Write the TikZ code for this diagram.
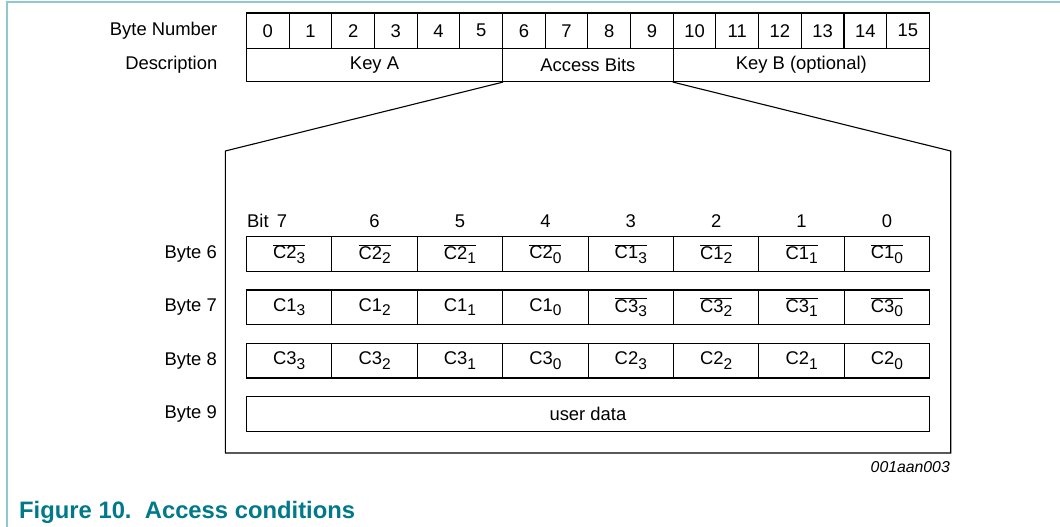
\documentclass[tikz,border=0pt]{standalone}
\usepackage{fontspec}
\setmainfont{Liberation Sans}
\definecolor{capteal}{RGB}{0,121,138}
\definecolor{frameteal}{RGB}{143,201,205}
\newcommand{\cbit}[2]{C#1{\fontsize{15.5}{15.5}\selectfont\raisebox{-4.5pt}{#2}}}
\newcommand{\cbitbar}[2]{\ensuremath{\overline{\hbox{\cbit{#1}{#2}}}}}
\begin{document}
\begin{tikzpicture}[x=1pt,y=-1pt,
    txt/.style={font=\fontsize{18.4}{20}\selectfont,inner sep=0pt},
    byte/.style={txt,draw,line width=1.1pt,minimum width=42.675pt,minimum height=35.5pt},
    part/.style={txt,draw,line width=1.1pt,minimum height=33pt},
    cell/.style={txt,draw,line width=1.1pt,minimum width=85.4pt,minimum height=34.4pt},
    edge/.style={line width=1.1pt}]
\useasboundingbox (0,0) rectangle (1060,527);
\draw[frameteal,line width=2pt] (7,527) -- (7,2) -- (1060,2);
% byte numbers
\node[txt,anchor=east] (BN) at (217.5,30.75) {Byte Number};
\node[byte] (n0) at (267.84,30.75) {0};
\node[byte] (n1) at (310.51,30.75) {1};
\node[byte] (n2) at (353.19,30.75) {2};
\node[byte] (n3) at (395.86,30.75) {3};
\node[byte] (n4) at (438.54,30.75) {4};
\node[byte] (n5) at (481.21,30.75) {5};
\node[byte] (n6) at (523.89,30.75) {6};
\node[byte] (n7) at (566.56,30.75) {7};
\node[byte] (n8) at (609.24,30.75) {8};
\node[byte] (n9) at (651.91,30.75) {9};
\node[byte] (n10) at (694.59,30.75) {10};
\node[byte] (n11) at (737.26,30.75) {11};
\node[byte] (n12) at (779.94,30.75) {12};
\node[byte] (n13) at (822.61,30.75) {13};
\node[byte] (n14) at (865.29,30.75) {14};
\node[byte] (n15) at (907.96,30.75) {15};
% description
\node[txt,anchor=east] (DS) at (217.5,65) {Description};
\node[part,minimum width=256.05pt] (keyA) at (374.53,65) {Key A};
\node[part,minimum width=170.7pt] (acc) at (587.9,65) {Access Bits};
\node[part,minimum width=256.05pt] (keyB) at (801.28,65) {Key B (optional)};
% zoomed frame
\coordinate (TL) at (225.3,151);
\coordinate (BL) at (225.3,453);
\coordinate (BR) at (950.7,453);
\coordinate (TR) at (950.7,151);
\draw[edge] (keyA.south east) -- (TL) -- (BL) -- (BR) -- (TR) -- (keyB.south west);
% bit numbers
\node[txt,anchor=base west] (bit) at (247,227) {Bit};
\node[txt,anchor=base] (b7) at (282,227) {7};
\node[txt,anchor=base] (b6) at (374.6,227) {6};
\node[txt,anchor=base] (b5) at (460.0,227) {5};
\node[txt,anchor=base] (b4) at (545.4,227) {4};
\node[txt,anchor=base] (b3) at (630.8,227) {3};
\node[txt,anchor=base] (b2) at (716.2,227) {2};
\node[txt,anchor=base] (b1) at (801.6,227) {1};
\node[txt,anchor=base] (b0) at (887.0,227) {0};
% byte 6
\node[txt,anchor=east] (L6) at (217,253.85) {Byte 6};
\node[cell] (r6c7) at (289.2,253.85) {\cbitbar{2}{3}};
\node[cell] (r6c6) at (374.6,253.85) {\cbitbar{2}{2}};
\node[cell] (r6c5) at (460.0,253.85) {\cbitbar{2}{1}};
\node[cell] (r6c4) at (545.4,253.85) {\cbitbar{2}{0}};
\node[cell] (r6c3) at (630.8,253.85) {\cbitbar{1}{3}};
\node[cell] (r6c2) at (716.2,253.85) {\cbitbar{1}{2}};
\node[cell] (r6c1) at (801.6,253.85) {\cbitbar{1}{1}};
\node[cell] (r6c0) at (887.0,253.85) {\cbitbar{1}{0}};
% byte 7
\node[txt,anchor=east] (L7) at (217,307.15) {Byte 7};
\node[cell] (r7c7) at (289.2,307.15) {\cbit{1}{3}};
\node[cell] (r7c6) at (374.6,307.15) {\cbit{1}{2}};
\node[cell] (r7c5) at (460.0,307.15) {\cbit{1}{1}};
\node[cell] (r7c4) at (545.4,307.15) {\cbit{1}{0}};
\node[cell] (r7c3) at (630.8,307.15) {\cbitbar{3}{3}};
\node[cell] (r7c2) at (716.2,307.15) {\cbitbar{3}{2}};
\node[cell] (r7c1) at (801.6,307.15) {\cbitbar{3}{1}};
\node[cell] (r7c0) at (887.0,307.15) {\cbitbar{3}{0}};
% byte 8
\node[txt,anchor=east] (L8) at (217,360.8) {Byte 8};
\node[cell] (r8c7) at (289.2,360.8) {\cbit{3}{3}};
\node[cell] (r8c6) at (374.6,360.8) {\cbit{3}{2}};
\node[cell] (r8c5) at (460.0,360.8) {\cbit{3}{1}};
\node[cell] (r8c4) at (545.4,360.8) {\cbit{3}{0}};
\node[cell] (r8c3) at (630.8,360.8) {\cbit{2}{3}};
\node[cell] (r8c2) at (716.2,360.8) {\cbit{2}{2}};
\node[cell] (r8c1) at (801.6,360.8) {\cbit{2}{1}};
\node[cell] (r8c0) at (887.0,360.8) {\cbit{2}{0}};
% byte 9
\node[txt,anchor=east] (L9) at (217,413.85) {Byte 9};
\node[cell,minimum width=683.2pt] (user) at (587.9,413.85) {user data};
% labels
\node[txt,anchor=base east,font=\fontsize{15.8}{17}\selectfont\itshape] (id) at (950,472) {001aan003};
\node[anchor=base west,inner sep=0pt,text=capteal,font=\fontsize{23.8}{25}\selectfont\bfseries] (cap) at (19,518.5) {Figure 10.~~Access conditions};
\end{tikzpicture}
\end{document}
